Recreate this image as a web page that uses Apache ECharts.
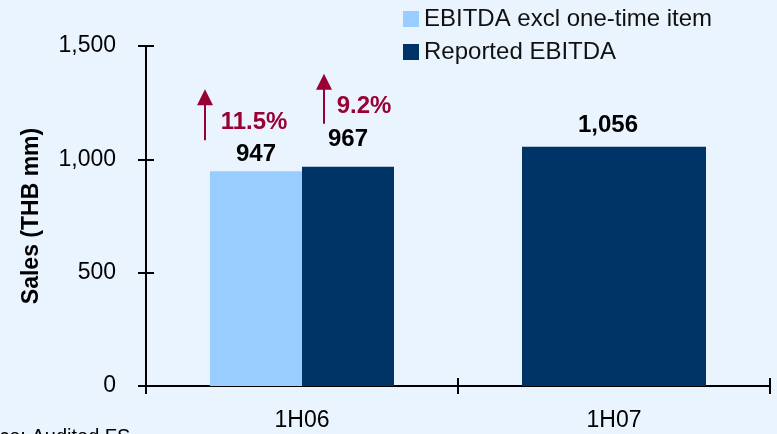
<!DOCTYPE html>
<html>
<head>
<meta charset="utf-8">
<script src="https://cdn.jsdelivr.net/npm/echarts@6/dist/echarts.min.js"></script>
<style>
  html, body { margin: 0; padding: 0; background: #EAF4FF; }
  #main { width: 777px; height: 434px; }
</style>
</head>
<body>
<div id="main"></div>
<script>
  // 数据
  const categories = ['1H06', '1H07']
  const exclOneTime = [947, '-']
  const reported = [967, '-']
  const reported07 = ['-', 1056]
  const growthLabels = ['11.5%', '9.2%']
  const yMin = 0, yMax = 1500, yStep = 500

  const FONT = 'Liberation Sans, Arial, sans-serif'
  const LIGHT = '#99CCFF'
  const DARK = '#003366'
  const RED = '#990033'

  const chart = echarts.init(document.getElementById('main'))

  const valueLabel = {
    show: true,
    position: 'top',
    distance: 5,
    color: '#000',
    fontWeight: 'bold',
    fontSize: 24,
    fontFamily: FONT,
    formatter: p => Number(p.value).toLocaleString('en-US')
  }

  const option = {
    backgroundColor: '#EAF4FF',
    animation: false,
    textStyle: { fontFamily: FONT },
    grid: { left: 146, right: 7, top: 46, bottom: 48 },
    legend: {
      orient: 'vertical',
      left: 398,
      top: 2,
      itemWidth: 16,
      itemHeight: 16,
      itemGap: 9,
      icon: 'rect',
      data: ['EBITDA excl one-time item', 'Reported EBITDA'],
      textStyle: { fontSize: 24, color: '#111', fontFamily: FONT }
    },
    xAxis: [
      {
        type: 'category',
        data: categories,
        axisLine: { lineStyle: { color: '#000', width: 2 } },
        axisTick: { show: true, length: 8, lineStyle: { color: '#000', width: 2 } },
        axisLabel: { fontSize: 23, color: '#000', margin: 23, fontFamily: FONT }
      },
      {
        // 第二个x轴：1H07 单柱 + 内侧刻度
        type: 'category',
        data: categories,
        position: 'bottom',
        axisLine: { show: false },
        axisTick: { show: true, inside: true, length: 8, lineStyle: { color: '#000', width: 2 } },
        axisLabel: { show: false }
      }
    ],
    yAxis: [
      {
        type: 'value',
        min: yMin, max: yMax, interval: yStep,
        name: 'Sales (THB mm)',
        nameLocation: 'middle',
        nameGap: 103,
        nameTextStyle: { fontSize: 23, fontWeight: 'bold', color: '#000', fontFamily: FONT },
        axisLine: { show: true, lineStyle: { color: '#000', width: 2 } },
        axisTick: { show: true, length: 8, lineStyle: { color: '#000', width: 2 } },
        splitLine: { show: false },
        axisLabel: {
          fontSize: 23, color: '#000', margin: 30, fontFamily: FONT,
          formatter: v => v.toLocaleString('en-US')
        }
      },
      {
        // 内侧刻度
        type: 'value',
        min: yMin, max: yMax, interval: yStep,
        position: 'left',
        axisLine: { show: false },
        axisTick: { show: true, inside: true, length: 8, lineStyle: { color: '#000', width: 2 } },
        splitLine: { show: false },
        axisLabel: { show: false }
      }
    ],
    series: [
      {
        name: 'EBITDA excl one-time item',
        type: 'bar',
        xAxisIndex: 0, yAxisIndex: 0,
        data: exclOneTime,
        barWidth: 92,
        barGap: '0%',
        itemStyle: { color: LIGHT },
        label: valueLabel
      },
      {
        name: 'Reported EBITDA',
        type: 'bar',
        xAxisIndex: 0, yAxisIndex: 0,
        data: reported.map(v => v === '-' ? v : { value: v, label: { distance: 15 } }),
        barWidth: 92,
        barGap: '0%',
        itemStyle: { color: DARK },
        label: valueLabel
      },
      {
        name: 'Reported EBITDA',
        type: 'bar',
        xAxisIndex: 1, yAxisIndex: 0,
        data: reported07,
        barWidth: 184,
        itemStyle: { color: DARK },
        label: Object.assign({}, valueLabel, { distance: 9, offset: [-6, 0] })
      }
    ]
  }

  chart.setOption(option)

  // 箭头 + 增长率 (位置根据柱顶换算)
  function arrow(x, yTop, yBottom) {
    return [
      { type: 'line', shape: { x1: x, y1: yTop + 14, x2: x, y2: yBottom },
        style: { stroke: RED, lineWidth: 2 } },
      { type: 'polygon', shape: { points: [[x, yTop], [x - 8, yTop + 16], [x + 8, yTop + 16]] },
        style: { fill: RED } }
    ]
  }

  const c = chart.convertToPixel({ xAxisIndex: 0, yAxisIndex: 0 }, [categories[0], exclOneTime[0]])
  const top1 = c[1]
  const top2 = chart.convertToPixel({ xAxisIndex: 0, yAxisIndex: 0 }, [categories[0], reported[0]])[1]
  const cx = c[0]

  const g = []
  g.push(...arrow(cx - 97, top1 - 82, top1 - 31))
  g.push({ type: 'text', x: cx - 48, y: top1 - 49,
    style: { text: growthLabels[0], fill: RED, font: 'bold 24px ' + FONT, align: 'center', verticalAlign: 'middle' } })
  g.push(...arrow(cx + 22, top2 - 93, top2 - 43))
  g.push({ type: 'text', x: cx + 62, y: top2 - 60,
    style: { text: growthLabels[1], fill: RED, font: 'bold 24px ' + FONT, align: 'center', verticalAlign: 'middle' } })
  // 来源
  g.push({ type: 'text', x: -43, y: 427,
    style: { text: 'Source: Audited FS', fill: '#000', font: '20px ' + FONT } })

  chart.setOption({ graphic: g })
</script>
</body>
</html>
